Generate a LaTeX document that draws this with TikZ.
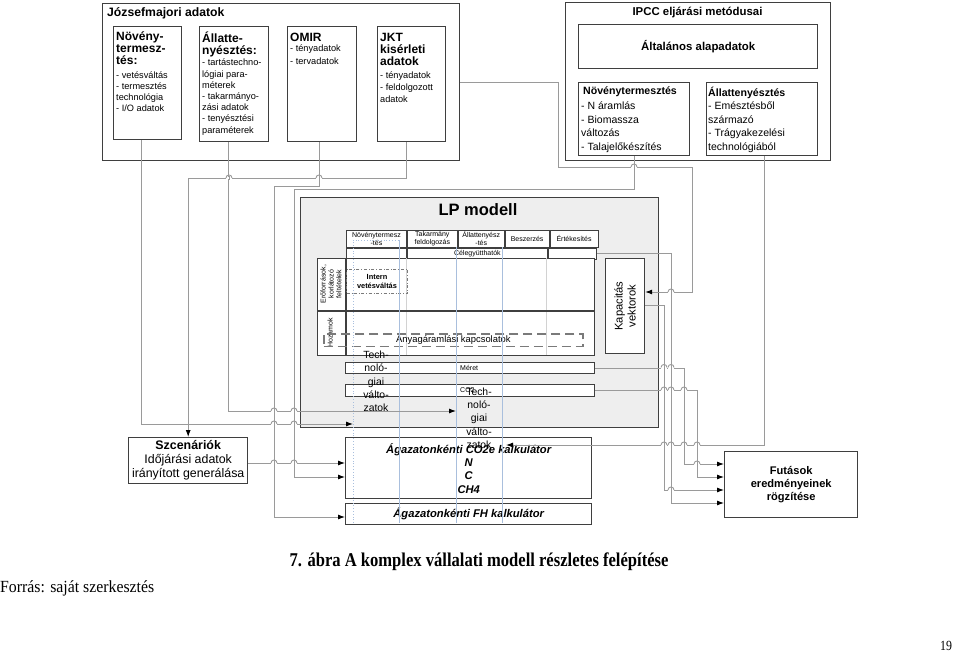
\documentclass[tikz,border=0pt]{standalone}
\usepackage{fontspec}
\setmainfont{Liberation Sans}
\newfontfamily\capfont{Liberation Serif}
\usetikzlibrary{arrows.meta,positioning}
\definecolor{boxline}{HTML}{3F3F3F}
\definecolor{connline}{HTML}{9A9A9A}
\definecolor{dashgray}{HTML}{7A7A7A}
\definecolor{lpfill}{HTML}{EEEEEE}
\definecolor{cellline}{HTML}{D2D2D2}
\definecolor{techblue}{HTML}{A9BFDD}
\newcommand{\fsz}[2]{\fontsize{#1}{#2}\selectfont}

\begin{document}
\begin{tikzpicture}[x=1pt, y=-1pt]
  \tikzset{>={Latex[length=7pt,width=5pt,color=black]}}
  \tikzset{box/.style={draw=boxline, line width=1.4pt, fill=white, inner sep=0pt, anchor=north west}}
  \tikzset{txt/.style={inner sep=0pt, align=left, anchor=north west}}
  \tikzset{head/.style={txt, font=\bfseries\fsz{12}{12}}}
  \tikzset{body/.style={txt, font=\fsz{9.2}{11.2}}}
  \tikzset{cell/.style={draw=boxline, line width=0.9pt, fill=white, inner sep=0pt, anchor=north west, align=center, font=\fsz{7}{8}}}
  \tikzset{conn/.style={draw=connline, line width=0.9pt}}
  \useasboundingbox (0,0) rectangle (960,652);

  % Jozsefmajori adatok
  \node[box, minimum width=357, minimum height=157] (jozsef) at (102,3) {};
  \node[txt, anchor=west, font=\bfseries\fsz{12.2}{14}] (jtitle) at (107,13) {Józsefmajori adatok};
  \node[box, minimum width=68, minimum height=113] (jnov) at (113,26) {};
  \node[head] (jnovh) at ([shift={(3,6)}]jnov.north west) {Növény-\\termesz-\\tés:};
  \node[body, font=\fsz{9.2}{11}] (jnovb) at ([shift={(3,46)}]jnov.north west) {- vetésváltás\\- termesztés\\technológia\\- I/O adatok};
  \node[box, minimum width=69, minimum height=115] (jall) at (199,26) {};
  \node[head] (jallh) at ([shift={(3,5.5)}]jall.north west) {Állatte-\\nyésztés:};
  \node[body] (jallb) at ([shift={(3,33)}]jall.north west) {- tartástechno-\\lógiai para-\\méterek\\- takarmányo-\\zási adatok\\- tenyésztési\\paraméterek};
  \node[box, minimum width=69, minimum height=115] (jomir) at (287,26) {};
  \node[head] (jomirh) at ([shift={(3,7)}]jomir.north west) {OMIR};
  \node[body, font=\fsz{9.2}{12.7}] (jomirb) at ([shift={(3,19)}]jomir.north west) {- tényadatok\\- tervadatok};
  \node[box, minimum width=68, minimum height=115] (jjkt) at (377,26) {};
  \node[head] (jjkth) at ([shift={(3,7)}]jjkt.north west) {JKT\\kisérleti\\adatok};
  \node[body, font=\fsz{9.2}{11.8}] (jjktb) at ([shift={(3,46)}]jjkt.north west) {- tényadatok\\- feldolgozott\\adatok};

  % IPCC
  \node[box, minimum width=265, minimum height=158] (ipcc) at (565,2) {};
  \node[font=\bfseries\fsz{11.4}{13}] (ititle) at (697.5,13) {IPCC eljárási metódusai};
  \node[box, minimum width=239, minimum height=44, font=\bfseries\fsz{11.4}{13}] (ialt) at (578,24) {Általános alapadatok};
  \node[box, minimum width=111, minimum height=73] (inov) at (578,82) {};
  \node[txt, font=\bfseries\fsz{10.6}{13}] (inovh) at ([shift={(5,5)}]inov.north west) {Növénytermesztés};
  \node[txt, font=\fsz{10.5}{13.5}] (inovb) at ([shift={(3,20)}]inov.north west) {- N áramlás\\- Biomassza\\változás\\- Talajelőkészítés};
  \node[box, minimum width=111, minimum height=73] (iall) at (706,82) {};
  \node[txt, font=\bfseries\fsz{10.6}{13}] (iallh) at ([shift={(2,5)}]iall.north west) {Állattenyésztés};
  \node[txt, font=\fsz{10.5}{13.5}] (iallb) at ([shift={(2,20)}]iall.north west) {- Emésztésből\\származó\\- Trágyakezelési\\technológiából};

  % LP modell
  \node[box, fill=lpfill, line width=1.2pt, minimum width=358, minimum height=230] (lp) at (300,197) {};
  \node[font=\bfseries\fsz{16.5}{18}] (lptitle) at (478,210) {LP modell};
  \node[cell, minimum width=60, minimum height=17] (hnov) at (346,230) {Növénytermesz\\-tés};
  \node[cell, minimum width=50, minimum height=17, right=0pt of hnov] (htak) {Takarmány\\feldolgozás};
  \node[cell, minimum width=46, minimum height=17, right=0pt of htak] (hall) {Állattenyész\\-tés};
  \node[cell, minimum width=44, minimum height=17, right=0pt of hall] (hbesz) {Beszerzés};
  \node[cell, minimum width=48, minimum height=17, right=0pt of hbesz] (hert) {Értékesítés};
  \node[cell, minimum width=60, minimum height=11, below=0pt of hnov] (celL) {};
  \node[cell, minimum width=140, minimum height=11, right=0pt of celL] (cel) {Célegyütthatók};
  \node[cell, minimum width=48, minimum height=11, right=0pt of cel] (celR) {};
  \node[draw=boxline, line width=1.1pt, fill=white, minimum width=277, minimum height=97, inner sep=0pt, anchor=north west] (tbl) at (317,258) {};
  \foreach \cx in {406,456,502,546}
    \draw[cellline, line width=0.6pt] (\cx,258) -- (\cx,355);
  \draw[boxline, line width=1.1pt] (346,258) -- (346,355);
  \draw[boxline, line width=1.1pt] (317,311) -- (594,311);
  \node[rotate=90, align=center, font=\fsz{7}{7.8}] (eroforras) at (331,284) {Erőforrások,\\korlátozó\\feltételek};
  \node[rotate=90, font=\fsz{7}{8}] (hozam) at (330,333) {Hozamok};
  \node[draw=dashgray, dash dot, line width=1pt, minimum width=61, minimum height=24, inner sep=0pt, anchor=north west, align=center, font=\bfseries\fsz{7.4}{9}] (intern) at (346,269) {Intern\\vetésváltás};
  \node[draw=dashgray, dash pattern=on 9pt off 5pt, line width=1.8pt, minimum width=259, minimum height=12.5, inner sep=0pt, anchor=north west, font=\fsz{9.4}{11}] (anyag) at (323,333) {Anyagáramlási kapcsolatok};
  \node[box, line width=1.2pt, minimum width=39, minimum height=95] (kap) at (605,258) {};
  \node[rotate=90, align=center, font=\fsz{11.2}{13}] (kaptxt) at (kap.center) {Kapacitás\\vektorok};
  \node[cell, minimum width=249, minimum height=11] (meret) at (345,362) {};
  \node[txt, anchor=west, font=\fsz{7}{8}] (merettxt) at (460,367.5) {Méret};
  \node[cell, minimum width=249, minimum height=12] (co2row) at (345,384) {};
  \node[txt, anchor=west, font=\fsz{7}{8}] (co2txt) at (460,390) {CO2};

  % kalkulatorok
  \node[box, minimum width=246, minimum height=61, align=center, font=\bfseries\itshape\fsz{11.2}{13.3}] (co2e) at (345,437) {Ágazatonkénti CO2e kalkulátor\\N\\C\\CH4};
  \node[box, minimum width=246, minimum height=21, font=\bfseries\itshape\fsz{11.2}{13}] (fh) at (345,503) {Ágazatonkénti FH kalkulátor};

  % technologiai valtozatok
  \draw[techblue, dotted, line width=0.8pt] (353,523) -- (353,240) -- (399,240);
  \draw[techblue, line width=0.8pt] (399,240) -- (399,523);
  \foreach \bx in {456,502}
    \draw[techblue, line width=0.8pt] (\bx,247) -- (\bx,523);
  \node[align=center, font=\fsz{10.4}{13.3}] (tech1) at (376,381.5) {Tech-\\noló-\\giai\\válto-\\zatok};
  \node[align=center, font=\fsz{10.4}{13.3}] (tech2) at (479,418) {Tech-\\noló-\\giai\\válto-\\zatok};

  \node[box, minimum width=119, minimum height=46, align=center, font=\fsz{12.4}{14}] (szcen) at (128,437) {\textbf{Szcenáriók}\\Időjárási adatok\\irányított generálása};
  \node[box, minimum width=133, minimum height=66, align=center, font=\bfseries\fsz{11.1}{13.3}] (futas) at (724,451) {Futások\\eredményeinek\\rögzítése};

  \coordinate (t1in) at (353,424);
  \coordinate (t2in) at (456,411);
  \coordinate (c2in) at (506,445);

  % connectors
  \draw[conn,->] (jnov.south -| 141,0) |- (t1in);
  \draw[conn,->] (jall.south -| 228,0) |- (t2in);
  \draw[conn,->] (jomir.south -| 319,0) |- (274,186) |- (fh.west |- 0,517);
  \draw[conn,->] (jjkt.south -| 406,0) |- (szcen.north |- 0,178) -- (szcen.north);
  \draw[conn,->] (inov.south -| 634,0) |- (294,189) |- (co2e.west |- 0,477);
  \draw[conn,->] (jozsef.east) -| (558,167) -| (692,292) -- (kap.east |- 0,292);
  \draw[conn,->] (iall.south -| 764,0) |- (c2in);
  \draw[conn,->] (szcen.east |- 0,463) -- (co2e.west |- 0,463);
  \draw[conn,->] (celR.east) -| (671,503) -- (futas.west |- 0,503);
  \draw[conn,->] (kap.east |- 0,305) -| (664,490) -- (futas.west |- 0,490);
  \draw[conn,->] (meret.east) -| (684,464) -- (futas.west |- 0,464);
  \draw[conn,->] (co2row.east) -| (697,477) -- (futas.west |- 0,477);

  % hops
  \foreach \hx/\hy in {229/178, 319/178, 634/167, 671/292, 664/367.5, 671/367.5,
      664/390, 671/390, 684/390, 664/445, 671/445, 684/445, 697/445, 697/464,
      671/490, 274/411, 294/411, 274/424, 294/424, 274/463, 294/463} {
    \draw[white, line width=2pt] (\hx-3,\hy) -- (\hx+3,\hy);
    \draw[conn] (\hx,\hy-2) -- (\hx,\hy+2);
    \draw[conn] (\hx-3,\hy) .. controls (\hx-3,\hy-4) and (\hx+3,\hy-4) .. (\hx+3,\hy);
  }

  % felirat
  \node[font=\capfont\bfseries\fsz{19.5}{22}] (caption) at (479,562) {\scalebox{0.85}[1]{7. ábra A komplex vállalati modell részletes felépítése}};
  \node[anchor=west, inner sep=0pt, font=\capfont\fsz{17}{20}] (forras) at (0,588) {\scalebox{0.93}[1]{Forrás: saját szerkesztés}};
  \node[font=\capfont\fsz{14}{16}] (oldal) at (946,646) {\scalebox{0.85}[1]{19}};
\end{tikzpicture}
\end{document}
